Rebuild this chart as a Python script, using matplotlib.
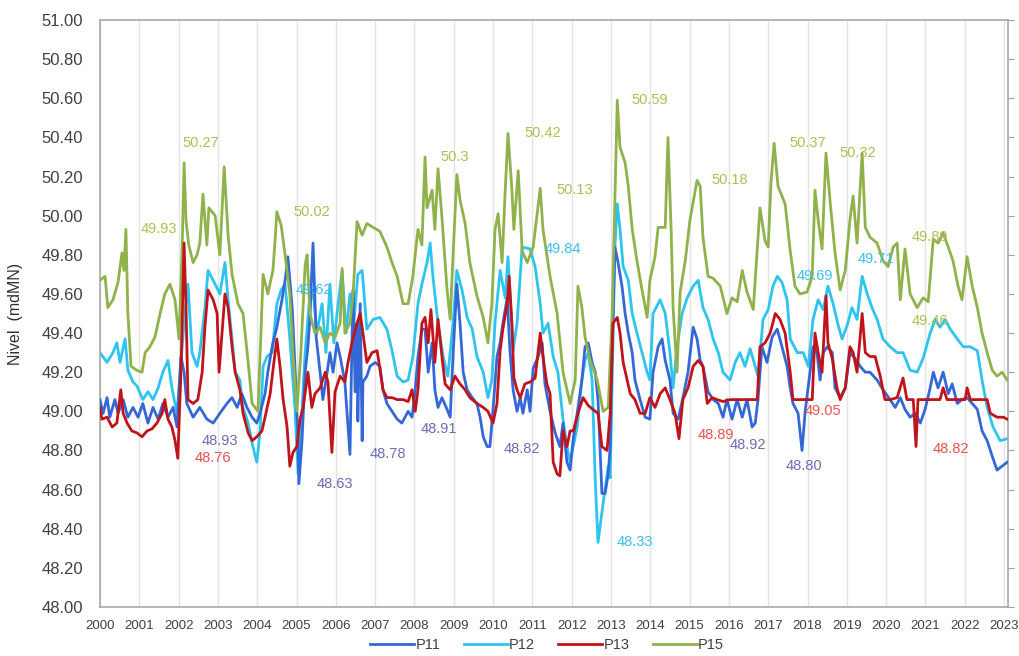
import matplotlib.pyplot as plt
import numpy as np

plt.rcParams['font.family'] = ['Liberation Sans', 'DejaVu Sans']

# P11
p11_t = [2000.00, 2000.08, 2000.18, 2000.25, 2000.38, 2000.46, 2000.59, 2000.71, 2000.84, 2000.97,
         2001.09, 2001.22, 2001.35, 2001.48, 2001.60, 2001.73, 2001.86, 2001.96, 2002.06, 2002.14,
         2002.21, 2002.37, 2002.54, 2002.72, 2002.88, 2003.05, 2003.23, 2003.36, 2003.49, 2003.61,
         2003.74, 2003.87, 2003.99, 2004.07, 2004.20, 2004.27, 2004.38, 2004.50, 2004.63, 2004.71,
         2004.78, 2004.89, 2004.96, 2005.04, 2005.06, 2005.14, 2005.22, 2005.29, 2005.34, 2005.42,
         2005.50, 2005.60, 2005.67, 2005.78, 2005.85, 2005.93, 2006.03, 2006.11, 2006.23, 2006.36,
         2006.41, 2006.44, 2006.49, 2006.54, 2006.56, 2006.62, 2006.67, 2006.69, 2006.79, 2006.87,
         2007.00, 2007.12, 2007.20, 2007.30, 2007.43, 2007.56, 2007.68, 2007.76, 2007.84, 2007.94,
         2008.02, 2008.09, 2008.19, 2008.27, 2008.35, 2008.45, 2008.52, 2008.60, 2008.70, 2008.83,
         2008.91, 2008.98, 2009.08, 2009.16, 2009.24, 2009.34, 2009.47, 2009.59, 2009.67, 2009.75,
         2009.85, 2009.92, 2010.00, 2010.10, 2010.18, 2010.25, 2010.36, 2010.43, 2010.51, 2010.61,
         2010.69, 2010.76, 2010.87, 2010.94, 2011.02, 2011.15, 2011.25, 2011.32, 2011.45, 2011.58,
         2011.70, 2011.78, 2011.88, 2011.96, 2012.04, 2012.14, 2012.26, 2012.34, 2012.42, 2012.52,
         2012.60, 2012.67, 2012.77, 2012.85, 2012.93, 2012.98, 2013.03, 2013.10, 2013.18, 2013.28,
         2013.36, 2013.44, 2013.54, 2013.61, 2013.74, 2013.87, 2013.99, 2014.07, 2014.20, 2014.30,
         2014.38, 2014.50, 2014.58, 2014.71, 2014.83, 2014.96, 2015.09, 2015.19, 2015.27, 2015.34,
         2015.47, 2015.60, 2015.73, 2015.85, 2015.95, 2016.08, 2016.21, 2016.34, 2016.46, 2016.59,
         2016.67, 2016.74, 2016.84, 2016.97, 2017.10, 2017.23, 2017.35, 2017.48, 2017.56, 2017.63,
         2017.76, 2017.86, 2017.94, 2018.07, 2018.14, 2018.24, 2018.32, 2018.40, 2018.50, 2018.63,
         2018.70, 2018.83, 2018.96, 2019.08, 2019.21, 2019.34, 2019.47, 2019.59, 2019.77, 2019.92,
         2020.10, 2020.23, 2020.36, 2020.48, 2020.61, 2020.74, 2020.87, 2020.99, 2021.12, 2021.20,
         2021.32, 2021.45, 2021.58, 2021.68, 2021.81, 2021.93, 2022.06, 2022.19, 2022.32, 2022.44,
         2022.57, 2022.70, 2022.82, 2022.95, 2023.08]
p11_v = [49.06, 48.99, 49.07, 48.97, 49.06, 48.99, 49.06, 48.97, 49.02, 48.97,
         49.04, 48.94, 49.02, 48.96, 49.04, 48.97, 49.02, 48.92, 49.28, 49.20,
         49.04, 48.97, 49.02, 48.96, 48.94, 48.99, 49.04, 49.07, 49.02, 49.09,
         49.02, 48.97, 48.94, 48.99, 49.09, 49.20, 49.33, 49.43, 49.57, 49.67,
         49.79, 49.53, 49.23, 48.85, 48.63, 48.85, 49.20, 49.33, 49.47, 49.86,
         49.38, 49.20, 49.06, 49.20, 49.30, 49.20, 49.35, 49.28, 49.15, 48.78,
         49.35, 49.62, 49.10, 49.45, 48.95, 49.55, 48.85, 49.15, 49.18, 49.23,
         49.25, 49.23, 49.11, 49.04, 49.00, 48.96, 48.94, 48.97, 49.00, 48.97,
         49.11, 49.28, 49.42, 49.42, 49.20, 49.35, 49.11, 49.02, 49.07, 49.01,
         48.97, 49.28, 49.65, 49.45, 49.20, 49.11, 49.07, 49.04, 48.97, 48.87,
         48.82, 48.82, 49.01, 49.28, 49.35, 49.45, 49.58, 49.31, 49.11, 49.00,
         49.07, 48.99, 49.11, 49.00, 49.22, 49.28, 49.35, 49.14, 49.00, 48.89,
         48.82, 48.94, 48.74, 48.70, 48.86, 48.99, 49.16, 49.33, 49.35, 49.25,
         49.20, 49.06, 48.58, 48.58, 48.68, 48.82, 49.33, 49.84, 49.76, 49.64,
         49.50, 49.40, 49.30, 49.16, 49.06, 48.97, 48.96, 49.20, 49.33, 49.37,
         49.26, 49.16, 48.99, 48.96, 49.07, 49.20, 49.43, 49.37, 49.26, 49.23,
         49.10, 49.06, 49.04, 48.97, 49.06, 48.96, 49.06, 48.97, 49.06, 48.92,
         48.94, 49.06, 49.33, 49.25, 49.38, 49.42, 49.33, 49.23, 49.12, 49.04,
         48.99, 48.80, 49.00, 49.21, 49.33, 49.30, 49.16, 49.30, 49.33, 49.30,
         49.12, 49.07, 49.12, 49.30, 49.27, 49.23, 49.20, 49.20, 49.16, 49.11,
         49.06, 49.02, 49.07, 49.01, 48.97, 48.99, 48.94, 49.01, 49.12, 49.20,
         49.12, 49.20, 49.09, 49.14, 49.04, 49.06, 49.07, 49.04, 49.01, 48.90,
         48.85, 48.77, 48.70, 48.72, 48.74]

# P12
p12_t = [2000.00, 2000.18, 2000.33, 2000.43, 2000.51, 2000.64, 2000.71, 2000.84, 2000.94, 2001.09,
         2001.22, 2001.35, 2001.48, 2001.60, 2001.73, 2001.83, 2001.96, 2002.04, 2002.16, 2002.24,
         2002.34, 2002.47, 2002.54, 2002.67, 2002.75, 2002.93, 2003.05, 2003.18, 2003.26, 2003.36,
         2003.44, 2003.56, 2003.64, 2003.77, 2003.89, 2003.99, 2004.07, 2004.15, 2004.25, 2004.38,
         2004.50, 2004.61, 2004.71, 2004.83, 2004.96, 2005.04, 2005.11, 2005.22, 2005.32, 2005.42,
         2005.52, 2005.65, 2005.75, 2005.85, 2005.95, 2006.06, 2006.16, 2006.26, 2006.36, 2006.46,
         2006.56, 2006.67, 2006.79, 2006.95, 2007.12, 2007.30, 2007.43, 2007.56, 2007.71, 2007.84,
         2007.96, 2008.09, 2008.19, 2008.32, 2008.40, 2008.47, 2008.60, 2008.73, 2008.85, 2008.98,
         2009.08, 2009.21, 2009.34, 2009.47, 2009.59, 2009.75, 2009.87, 2009.97, 2010.05, 2010.18,
         2010.31, 2010.38, 2010.51, 2010.61, 2010.74, 2010.94, 2011.07, 2011.20, 2011.27, 2011.40,
         2011.53, 2011.65, 2011.78, 2011.88, 2011.96, 2012.14, 2012.26, 2012.34, 2012.42, 2012.52,
         2012.60, 2012.67, 2012.80, 2012.93, 2012.98, 2013.03, 2013.10, 2013.16, 2013.23, 2013.31,
         2013.44, 2013.54, 2013.66, 2013.79, 2013.92, 2013.99, 2014.07, 2014.25, 2014.38, 2014.50,
         2014.58, 2014.68, 2014.81, 2014.94, 2015.09, 2015.22, 2015.34, 2015.47, 2015.60, 2015.73,
         2015.85, 2016.03, 2016.16, 2016.28, 2016.41, 2016.54, 2016.67, 2016.74, 2016.87, 2017.00,
         2017.12, 2017.23, 2017.35, 2017.48, 2017.56, 2017.74, 2017.89, 2018.02, 2018.14, 2018.27,
         2018.40, 2018.52, 2018.65, 2018.78, 2018.88, 2019.01, 2019.13, 2019.26, 2019.39, 2019.52,
         2019.64, 2019.77, 2019.92, 2020.10, 2020.28, 2020.43, 2020.61, 2020.79, 2020.94, 2021.12,
         2021.25, 2021.37, 2021.50, 2021.63, 2021.81, 2021.96, 2022.14, 2022.32, 2022.44, 2022.57,
         2022.72, 2022.90, 2023.08]
p12_v = [49.30, 49.25, 49.30, 49.35, 49.25, 49.37, 49.21, 49.15, 49.13, 49.06,
         49.10, 49.06, 49.12, 49.20, 49.26, 49.12, 48.99, 49.20, 49.50, 49.65,
         49.30, 49.23, 49.30, 49.53, 49.72, 49.65, 49.60, 49.76, 49.57, 49.37,
         49.20, 49.16, 49.02, 48.94, 48.82, 48.74, 48.89, 49.23, 49.28, 49.30,
         49.55, 49.62, 49.65, 49.37, 49.02, 48.68, 48.90, 49.30, 49.55, 49.62,
         49.40, 49.55, 49.30, 49.65, 49.35, 49.55, 49.72, 49.40, 49.60, 49.45,
         49.70, 49.72, 49.42, 49.47, 49.48, 49.42, 49.31, 49.18, 49.15, 49.16,
         49.28, 49.55, 49.65, 49.76, 49.86, 49.69, 49.45, 49.28, 49.18, 49.45,
         49.72, 49.62, 49.48, 49.42, 49.28, 49.20, 49.07, 49.16, 49.45, 49.72,
         49.58, 49.79, 49.31, 49.45, 49.84, 49.83, 49.74, 49.55, 49.40, 49.45,
         49.28, 49.20, 48.96, 48.82, 48.74, 48.92, 49.16, 49.26, 49.30, 49.16,
         48.65, 48.33, 48.53, 48.72, 48.66, 49.16, 49.84, 50.06, 49.93, 49.74,
         49.67, 49.50, 49.40, 49.30, 49.20, 49.16, 49.50, 49.57, 49.50, 49.30,
         49.12, 49.33, 49.50, 49.58, 49.64, 49.67, 49.53, 49.47, 49.37, 49.30,
         49.20, 49.16, 49.25, 49.30, 49.23, 49.32, 49.23, 49.18, 49.47, 49.52,
         49.64, 49.69, 49.66, 49.57, 49.37, 49.30, 49.30, 49.23, 49.47, 49.57,
         49.52, 49.64, 49.55, 49.44, 49.37, 49.44, 49.53, 49.47, 49.69, 49.60,
         49.53, 49.47, 49.37, 49.33, 49.30, 49.30, 49.21, 49.20, 49.27, 49.40,
         49.47, 49.43, 49.47, 49.42, 49.37, 49.33, 49.33, 49.31, 49.16, 49.02,
         48.92, 48.85, 48.86]

# P13
p13_t = [2000.00, 2000.05, 2000.18, 2000.31, 2000.43, 2000.53, 2000.59, 2000.69, 2000.81, 2000.94,
         2001.07, 2001.20, 2001.32, 2001.45, 2001.58, 2001.65, 2001.73, 2001.83, 2001.91, 2001.98,
         2002.06, 2002.14, 2002.19, 2002.24, 2002.37, 2002.49, 2002.60, 2002.67, 2002.75, 2002.88,
         2002.98, 2003.03, 2003.13, 2003.18, 2003.26, 2003.36, 2003.44, 2003.56, 2003.64, 2003.77,
         2003.87, 2003.99, 2004.12, 2004.20, 2004.33, 2004.40, 2004.50, 2004.58, 2004.66, 2004.76,
         2004.83, 2004.91, 2005.01, 2005.09, 2005.17, 2005.29, 2005.39, 2005.47, 2005.60, 2005.73,
         2005.80, 2005.90, 2005.98, 2006.11, 2006.23, 2006.31, 2006.41, 2006.54, 2006.62, 2006.69,
         2006.79, 2006.92, 2007.05, 2007.12, 2007.20, 2007.30, 2007.43, 2007.56, 2007.71, 2007.84,
         2007.94, 2008.02, 2008.09, 2008.19, 2008.27, 2008.35, 2008.42, 2008.52, 2008.60, 2008.70,
         2008.78, 2008.91, 2009.03, 2009.16, 2009.29, 2009.41, 2009.59, 2009.75, 2009.87, 2010.00,
         2010.10, 2010.18, 2010.25, 2010.36, 2010.41, 2010.48, 2010.53, 2010.61, 2010.69, 2010.81,
         2010.94, 2011.07, 2011.20, 2011.27, 2011.37, 2011.45, 2011.53, 2011.63, 2011.70, 2011.78,
         2011.88, 2011.96, 2012.04, 2012.16, 2012.29, 2012.42, 2012.54, 2012.67, 2012.77, 2012.90,
         2012.98, 2013.05, 2013.16, 2013.23, 2013.31, 2013.41, 2013.49, 2013.61, 2013.74, 2013.87,
         2013.99, 2014.12, 2014.25, 2014.38, 2014.50, 2014.63, 2014.73, 2014.83, 2014.96, 2015.09,
         2015.22, 2015.34, 2015.45, 2015.57, 2015.70, 2015.85, 2016.03, 2016.21, 2016.36, 2016.54,
         2016.72, 2016.79, 2016.92, 2017.05, 2017.18, 2017.30, 2017.43, 2017.56, 2017.63, 2017.81,
         2017.99, 2018.12, 2018.19, 2018.27, 2018.37, 2018.47, 2018.52, 2018.63, 2018.75, 2018.83,
         2018.96, 2019.08, 2019.16, 2019.26, 2019.39, 2019.47, 2019.59, 2019.72, 2019.85, 2019.97,
         2020.10, 2020.28, 2020.43, 2020.53, 2020.69, 2020.76, 2020.81, 2021.04, 2021.37, 2021.45,
         2021.55, 2022.01, 2022.06, 2022.14, 2022.57, 2022.65, 2022.82, 2022.98, 2023.08]
p13_v = [49.02, 48.96, 48.97, 48.92, 48.94, 49.11, 48.99, 48.94, 48.90, 48.89,
         48.87, 48.90, 48.91, 48.94, 48.99, 49.06, 48.96, 48.92, 48.85, 48.76,
         49.20, 49.86, 49.53, 49.06, 49.04, 49.06, 49.20, 49.43, 49.62, 49.57,
         49.50, 49.20, 49.47, 49.60, 49.53, 49.33, 49.20, 49.11, 48.99, 48.89,
         48.85, 48.87, 48.90, 48.97, 49.09, 49.21, 49.37, 49.23, 49.06, 48.92,
         48.72, 48.79, 48.82, 48.96, 49.02, 49.20, 49.02, 49.09, 49.12, 49.20,
         49.15, 48.79, 49.10, 49.18, 49.15, 49.25, 49.35, 49.45, 49.50, 49.40,
         49.25, 49.30, 49.31, 49.22, 49.11, 49.07, 49.07, 49.06, 49.06, 49.05,
         49.11, 49.00, 49.11, 49.45, 49.48, 49.35, 49.52, 49.25, 49.47, 49.28,
         49.14, 49.11, 49.18, 49.14, 49.11, 49.07, 49.04, 49.02, 49.00, 48.94,
         49.04, 49.31, 49.42, 49.55, 49.69, 49.45, 49.17, 49.11, 49.07, 49.14,
         49.15, 49.17, 49.40, 49.28, 49.14, 49.09, 48.74, 48.68, 48.67, 48.90,
         48.82, 48.90, 48.90, 48.99, 49.07, 49.03, 49.01, 48.99, 48.82, 48.80,
         48.99, 49.45, 49.48, 49.40, 49.25, 49.16, 49.09, 49.06, 48.99, 48.99,
         49.07, 49.02, 49.09, 49.12, 49.06, 48.99, 48.86, 49.06, 49.12, 49.23,
         49.26, 49.23, 49.04, 49.07, 49.06, 49.05, 49.06, 49.06, 49.06, 49.06,
         49.06, 49.33, 49.35, 49.40, 49.50, 49.47, 49.40, 49.20, 49.06, 49.06,
         49.06, 49.06, 49.40, 49.30, 49.20, 49.59, 49.35, 49.27, 49.12, 49.06,
         49.12, 49.33, 49.30, 49.20, 49.50, 49.30, 49.28, 49.28, 49.18, 49.06,
         49.06, 49.07, 49.17, 49.06, 49.06, 48.82, 49.06, 49.06, 49.06, 49.12,
         49.06, 49.06, 49.12, 49.06, 49.06, 48.99, 48.97, 48.97, 48.96]

# P15
p15_t = [2000.00, 2000.13, 2000.20, 2000.33, 2000.46, 2000.56, 2000.61, 2000.66, 2000.71, 2000.79,
         2000.94, 2001.07, 2001.15, 2001.27, 2001.40, 2001.53, 2001.65, 2001.78, 2001.91, 2002.01,
         2002.09, 2002.14, 2002.19, 2002.26, 2002.37, 2002.47, 2002.54, 2002.62, 2002.72, 2002.77,
         2002.93, 2003.05, 2003.16, 2003.26, 2003.36, 2003.51, 2003.64, 2003.77, 2003.87, 2004.02,
         2004.15, 2004.27, 2004.40, 2004.45, 2004.50, 2004.61, 2004.71, 2004.83, 2004.91, 2005.01,
         2005.11, 2005.22, 2005.27, 2005.34, 2005.47, 2005.60, 2005.73, 2005.85, 2005.98, 2006.11,
         2006.16, 2006.23, 2006.36, 2006.44, 2006.54, 2006.67, 2006.79, 2006.95, 2007.12, 2007.30,
         2007.43, 2007.56, 2007.71, 2007.84, 2007.96, 2008.09, 2008.19, 2008.27, 2008.32, 2008.45,
         2008.52, 2008.60, 2008.70, 2008.83, 2008.91, 2008.98, 2009.08, 2009.16, 2009.29, 2009.41,
         2009.59, 2009.75, 2009.87, 2009.97, 2010.05, 2010.13, 2010.23, 2010.31, 2010.38, 2010.48,
         2010.53, 2010.64, 2010.74, 2010.87, 2011.02, 2011.20, 2011.27, 2011.45, 2011.63, 2011.78,
         2011.96, 2012.09, 2012.16, 2012.26, 2012.34, 2012.47, 2012.65, 2012.80, 2012.93, 2013.03,
         2013.16, 2013.23, 2013.36, 2013.44, 2013.54, 2013.66, 2013.79, 2013.92, 2013.99, 2014.12,
         2014.20, 2014.38, 2014.45, 2014.53, 2014.58, 2014.68, 2014.76, 2014.89, 2015.01, 2015.19,
         2015.27, 2015.34, 2015.47, 2015.60, 2015.78, 2015.95, 2016.08, 2016.21, 2016.34, 2016.46,
         2016.62, 2016.79, 2016.92, 2017.00, 2017.07, 2017.15, 2017.25, 2017.43, 2017.56, 2017.68,
         2017.81, 2017.99, 2018.12, 2018.19, 2018.27, 2018.37, 2018.47, 2018.58, 2018.70, 2018.83,
         2018.96, 2019.08, 2019.16, 2019.26, 2019.39, 2019.47, 2019.59, 2019.77, 2019.92, 2020.05,
         2020.18, 2020.28, 2020.36, 2020.48, 2020.61, 2020.79, 2020.94, 2021.07, 2021.20, 2021.32,
         2021.45, 2021.58, 2021.70, 2021.83, 2021.93, 2022.06, 2022.19, 2022.32, 2022.44, 2022.57,
         2022.70, 2022.82, 2022.95, 2023.08]
p15_v = [49.67, 49.69, 49.53, 49.57, 49.66, 49.81, 49.72, 49.93, 49.50, 49.23,
         49.21, 49.20, 49.30, 49.33, 49.38, 49.50, 49.60, 49.65, 49.57, 49.37,
         49.83, 50.27, 49.97, 49.85, 49.76, 49.80, 49.86, 50.11, 49.85, 50.04,
         50.00, 49.80, 50.25, 49.90, 49.70, 49.55, 49.50, 49.25, 49.04, 49.00,
         49.70, 49.60, 49.72, 49.86, 50.02, 49.95, 49.80, 49.60, 49.30, 49.00,
         49.30, 49.75, 49.80, 49.50, 49.40, 49.43, 49.35, 49.40, 49.38, 49.45,
         49.73, 49.40, 49.45, 49.60, 49.97, 49.90, 49.96, 49.94, 49.92, 49.84,
         49.76, 49.69, 49.55, 49.55, 49.69, 49.93, 49.85, 50.30, 50.04, 50.13,
         49.93, 50.24, 49.99, 49.62, 49.47, 49.79, 50.21, 50.08, 49.96, 49.76,
         49.59, 49.48, 49.35, 49.55, 49.93, 50.01, 49.76, 50.13, 50.42, 50.13,
         49.93, 50.23, 49.82, 49.76, 49.84, 50.14, 49.93, 49.69, 49.50, 49.20,
         49.04, 49.16, 49.64, 49.53, 49.38, 49.26, 49.16, 49.00, 49.02, 49.50,
         50.59, 50.35, 50.27, 50.15, 49.93, 49.77, 49.62, 49.48, 49.67, 49.79,
         49.94, 49.94, 50.40, 49.93, 49.53, 49.20, 49.61, 49.77, 49.98, 50.18,
         50.15, 49.89, 49.69, 49.68, 49.64, 49.50, 49.58, 49.56, 49.72, 49.61,
         49.52, 50.04, 49.87, 49.84, 50.17, 50.37, 50.15, 50.06, 49.82, 49.64,
         49.60, 49.61, 49.69, 50.13, 49.98, 49.83, 50.32, 50.06, 49.81, 49.62,
         49.72, 49.98, 50.10, 49.86, 50.32, 49.94, 49.89, 49.86, 49.77, 49.74,
         49.84, 49.86, 49.57, 49.83, 49.60, 49.53, 49.58, 49.56, 49.88, 49.86,
         49.91, 49.84, 49.77, 49.64, 49.57, 49.79, 49.64, 49.53, 49.40, 49.30,
         49.21, 49.18, 49.20, 49.16]

# data labels: text, year, level, colour key
lbl_text = ['50.27', '49.93', '50.02', '49.62', '50.3', '50.42', '50.13', '49.84', '50.59',
            '50.18', '50.37', '50.32', '49.89', '49.46', '49.71', '49.69',
            '48.93', '48.76', '48.63', '48.78', '48.91', '48.82', '48.33', '48.89',
            '48.92', '48.80', '49.05', '48.82']
lbl_x = [2002.57, 2001.50, 2005.39, 2005.45, 2009.03, 2011.27, 2012.07, 2011.78, 2013.99,
         2016.03, 2018.01, 2019.29, 2021.12, 2021.12, 2019.75, 2018.19,
         2003.05, 2002.88, 2005.98, 2007.33, 2008.63, 2010.74, 2013.61, 2015.67,
         2016.49, 2017.91, 2018.40, 2021.65]
lbl_y = [50.37, 49.93, 50.02, 49.62, 50.30, 50.42, 50.13, 49.83, 50.59,
         50.18, 50.37, 50.32, 49.89, 49.46, 49.78, 49.69,
         48.85, 48.76, 48.63, 48.78, 48.91, 48.81, 48.33, 48.88,
         48.83, 48.72, 49.00, 48.81]
lbl_kind = ['P15', 'P15', 'P15', 'P12', 'P15', 'P15', 'P15', 'P12', 'P15',
            'P15', 'P15', 'P15', 'P15', 'P15', 'P12', 'P12',
            'P11', 'P13', 'P11', 'P11', 'P11', 'P11', 'P12', 'P13',
            'P11', 'P11', 'P13', 'P13']

line_col = {'P11': '#3468d8', 'P12': '#2ec4f0', 'P13': '#c0141a', 'P15': '#8fb24a'}
text_col = {'P11': '#6c6cb4', 'P12': '#3cbfea', 'P13': '#e8524e', 'P15': '#a9c155'}

fig = plt.figure(figsize=(10.19, 6.56), dpi=100)
ax = fig.add_axes([0.0981, 0.0747, 0.8911, 0.8948])

ax.plot(p11_t, p11_v, color=line_col['P11'], lw=2.0, label='P11', zorder=3)
ax.plot(p12_t, p12_v, color=line_col['P12'], lw=2.0, label='P12', zorder=2)
ax.plot(p13_t, p13_v, color=line_col['P13'], lw=2.0, label='P13', zorder=5)
ax.plot(p15_t, p15_v, color=line_col['P15'], lw=2.0, label='P15', zorder=4)

for s, x, y, k in zip(lbl_text, lbl_x, lbl_y, lbl_kind):
    ax.text(x, y, s, color=text_col[k], fontsize=10.5, ha='center', va='center', zorder=6)

years = np.arange(2000, 2024)
ax.set_xlim(2000, 2023.10)
ax.set_ylim(48.0, 51.0)
ax.set_xticks(years)
ax.set_xticklabels([str(y) for y in years])
ax.set_yticks(np.arange(48.0, 51.01, 0.2))
ax.set_yticklabels(['%.2f' % v for v in np.arange(48.0, 51.01, 0.2)])
ax.grid(axis='x', color='#e4e4e4', lw=1.0, zorder=0)
ax.set_axisbelow(True)

ax.tick_params(axis='y', left=False, right=True, labelleft=True, labelright=False,
               direction='out', length=4, color='#a0a0a0', labelsize=12, labelcolor='#404040', pad=8)
ax.tick_params(axis='x', bottom=False, labelsize=9.5, labelcolor='#404040', pad=6)
for sp in ax.spines.values():
    sp.set_color('#a8a8a8')
    sp.set_linewidth(1.2)

ax.set_ylabel('Nivel  (mdMN)', fontsize=11.5, color='#303030')
ax.yaxis.set_label_coords(-0.085, 0.5)

fig.legend(loc='center', bbox_to_anchor=(0.537, 0.017), ncol=4, frameon=False,
           fontsize=10.5, handlelength=3.0, handletextpad=0.1, columnspacing=1.6,
           labelcolor='#404040')

plt.savefig('out.png', dpi=100)
